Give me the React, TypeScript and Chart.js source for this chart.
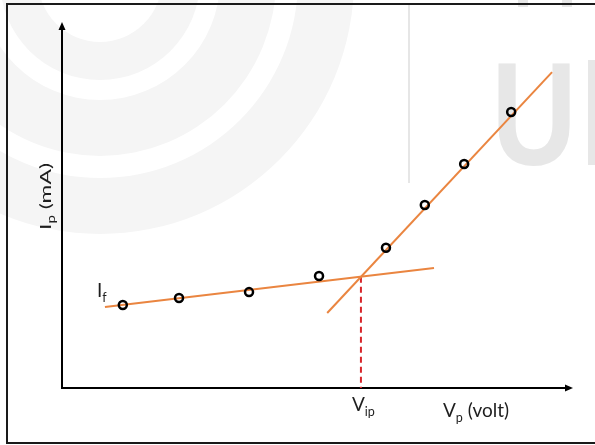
import React, { useEffect, useRef } from "react";
import { Chart, registerables } from "chart.js";

Chart.register(...registerables);

const W = 595;
const H = 445;

// Measured characteristic (plate voltage in arbitrary volt units, plate current in mA units)
const plateVoltage = [1.19, 2.29, 3.66, 5.03, 6.34, 7.1, 7.87, 8.79];
const plateCurrent = [2.27, 2.46, 2.62, 3.06, 3.83, 5.0, 6.12, 7.54];

// Fitted straight lines
const lowFitVoltage = [0.84, 7.28];
const lowFitCurrent = [2.21, 3.28];
const highFitVoltage = [5.19, 9.59];
const highFitCurrent = [2.05, 8.63];

// Intersection (ignition potential)
const ignitionVoltage = [5.85, 5.85];
const ignitionCurrent = [3.04, 0];

const axisMin = 0;
const axisMax = 10;

const yLabelParts: [string, boolean][] = [["I", false], ["p", true], [" (mA)", false]];
const xLabelParts: [string, boolean][] = [["V", false], ["p", true], [" (volt)", false]];
const ipLabelParts: [string, boolean][] = [["V", false], ["ip", true]];
const ifLabelParts: [string, boolean][] = [["I", false], ["f", true]];

const FONT = "Lato, 'Open Sans', sans-serif";
const ORANGE = "#EA8540";

function pts(xs: number[], ys: number[]) {
  return xs.map((x, i) => ({ x, y: ys[i] }));
}

function measureParts(ctx: CanvasRenderingContext2D, parts: [string, boolean][], size: number) {
  let w = 0;
  for (const [t, sub] of parts) {
    ctx.font = `${sub ? size * 0.66 : size}px ${FONT}`;
    w += ctx.measureText(t).width;
  }
  return w;
}

function drawParts(ctx: CanvasRenderingContext2D, x: number, y: number, parts: [string, boolean][], size: number) {
  let cx = x;
  for (const [t, sub] of parts) {
    const s = sub ? size * 0.66 : size;
    ctx.font = `${s}px ${FONT}`;
    ctx.fillText(t, cx, y + (sub ? size * 0.24 : 0));
    cx += ctx.measureText(t).width;
  }
  return cx - x;
}

const decorPlugin = {
  id: "decor",
  beforeDraw(chart: any) {
    const ctx: CanvasRenderingContext2D = chart.ctx;
    ctx.save();
    ctx.fillStyle = "#ffffff";
    ctx.fillRect(0, 0, W, H);
    // faint watermark rings
    ctx.fillStyle = "#f5f5f5";
    const cx = 100;
    const cy = -20;
    const rings = [
      [198, 254],
      [120, 176],
      [62, 100],
    ];
    for (const [r0, r1] of rings) {
      ctx.beginPath();
      ctx.arc(cx, cy, r1, 0, Math.PI * 2, false);
      ctx.moveTo(cx + r0, cy);
      ctx.arc(cx, cy, r0, 0, Math.PI * 2, true);
      ctx.fill();
    }
    // watermark vertical line
    ctx.strokeStyle = "#dedede";
    ctx.lineWidth = 1.5;
    ctx.beginPath();
    ctx.moveTo(409, 4);
    ctx.lineTo(409, 183);
    ctx.stroke();
    // watermark letters
    ctx.fillStyle = "#e7e7e7";
    ctx.font = `bold 146px 'Liberation Sans', sans-serif`;
    ctx.textBaseline = "alphabetic";
    const m = ctx.measureText("U");
    const uw = m.actualBoundingBoxRight + m.actualBoundingBoxLeft;
    ctx.save();
    ctx.translate(498, 165);
    ctx.scale(72 / uw, 1);
    ctx.fillText("U", m.actualBoundingBoxLeft, 0);
    ctx.restore();
    ctx.fillRect(588, 60, 10, 105);
    ctx.fillRect(518, 0, 10, 7);
    ctx.fillRect(562, 0, 10, 7);
    ctx.restore();
  },
  beforeDatasetsDraw(chart: any) {
    const ctx: CanvasRenderingContext2D = chart.ctx;
    const a = chart.chartArea;
    ctx.save();
    ctx.strokeStyle = "#000";
    ctx.fillStyle = "#000";
    ctx.lineWidth = 2;
    ctx.beginPath();
    ctx.moveTo(a.left, a.top + 6);
    ctx.lineTo(a.left, a.bottom);
    ctx.lineTo(a.right - 6, a.bottom);
    ctx.stroke();
    // arrowheads
    ctx.beginPath();
    ctx.moveTo(a.left, a.top);
    ctx.lineTo(a.left - 3.5, a.top + 8);
    ctx.lineTo(a.left + 3.5, a.top + 8);
    ctx.closePath();
    ctx.fill();
    ctx.beginPath();
    ctx.moveTo(a.right, a.bottom);
    ctx.lineTo(a.right - 8, a.bottom - 3.5);
    ctx.lineTo(a.right - 8, a.bottom + 3.5);
    ctx.closePath();
    ctx.fill();
    ctx.restore();
  },
  afterDraw(chart: any) {
    const ctx: CanvasRenderingContext2D = chart.ctx;
    const a = chart.chartArea;
    const xs = chart.scales.x;
    const ys = chart.scales.y;
    ctx.save();
    ctx.fillStyle = "#1e1e1e";
    ctx.textBaseline = "alphabetic";
    ctx.textAlign = "left";
    const size = 19;
    // V_ip label under the dashed line
    const vx = xs.getPixelForValue(ignitionVoltage[0]);
    drawParts(ctx, vx - 9, a.bottom + 23, ipLabelParts, size);
    // V_p (volt)
    drawParts(ctx, 443, a.bottom + 29, xLabelParts, size);
    // I_f near the low fit line start
    const fx = xs.getPixelForValue(lowFitVoltage[0]);
    const fy = ys.getPixelForValue(lowFitCurrent[0]);
    drawParts(ctx, fx - 8, fy - 10, ifLabelParts, size);
    // rotated y label (stretched along its length as in the reference)
    const ySize = 16;
    const yw = measureParts(ctx, yLabelParts, ySize);
    ctx.save();
    ctx.translate(a.left - 11, 230);
    ctx.rotate(-Math.PI / 2);
    ctx.scale(67 / yw, 1);
    drawParts(ctx, 0, 0, yLabelParts, ySize);
    ctx.restore();
    // frame
    ctx.strokeStyle = "#1a1a1a";
    ctx.lineWidth = 2;
    ctx.beginPath();
    ctx.moveTo(W, 4);
    ctx.lineTo(7, 4);
    ctx.lineTo(7, 443);
    ctx.lineTo(W, 443);
    ctx.stroke();
    ctx.restore();
  },
};

export default function App() {
  const ref = useRef<HTMLCanvasElement | null>(null);
  useEffect(() => {
    if (!ref.current) return;
    const chart = new Chart(ref.current, {
      type: "scatter",
      data: {
        datasets: [
          {
            label: "measured",
            data: pts(plateVoltage, plateCurrent),
            showLine: false,
            pointRadius: 4,
            pointBorderWidth: 2.5,
            pointBorderColor: "#000",
            pointBackgroundColor: "rgba(255,255,255,0)",
          },
          {
            label: "low fit",
            data: pts(lowFitVoltage, lowFitCurrent),
            showLine: true,
            pointRadius: 0,
            borderColor: ORANGE,
            borderWidth: 2,
          },
          {
            label: "high fit",
            data: pts(highFitVoltage, highFitCurrent),
            showLine: true,
            pointRadius: 0,
            borderColor: ORANGE,
            borderWidth: 2,
          },
          {
            label: "ignition",
            data: pts(ignitionVoltage, ignitionCurrent),
            showLine: true,
            pointRadius: 0,
            borderColor: "#D7262B",
            borderWidth: 2,
            borderDash: [6, 4],
          },
        ],
      },
      options: {
        responsive: false,
        animation: false,
        layout: { padding: { left: 62, right: 22, top: 22, bottom: 57 } },
        plugins: { legend: { display: false }, tooltip: { enabled: false } },
        scales: {
          x: { type: "linear", min: axisMin, max: axisMax, display: false },
          y: { type: "linear", min: axisMin, max: axisMax, display: false },
        },
        elements: { line: { tension: 0 } },
      },
      plugins: [decorPlugin],
    });
    return () => chart.destroy();
  }, []);
  return (
    <div style={{ position: "absolute", left: 0, top: 0, width: W, height: H }}>
      <canvas ref={ref} width={W} height={H} style={{ display: "block", width: W, height: H }} />
    </div>
  );
}
